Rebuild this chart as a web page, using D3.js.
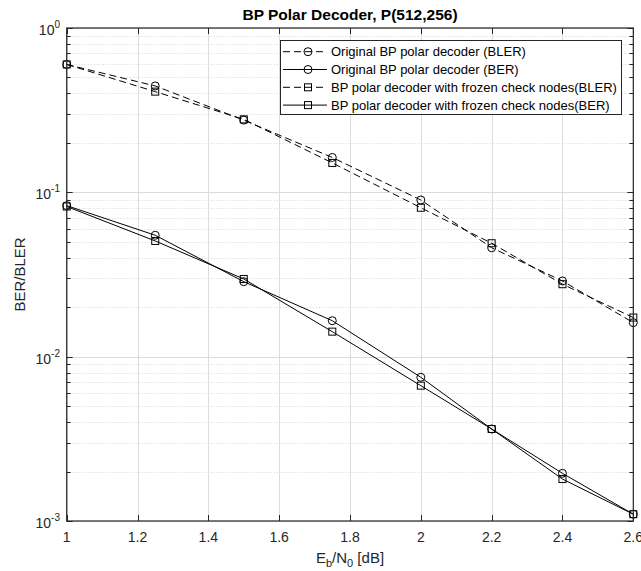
<!DOCTYPE html>
<html>
<head>
<meta charset="utf-8">
<script src="https://cdn.jsdelivr.net/npm/d3@7"></script>
<style>
  body { margin: 0; background: #fff; }
  svg { display: block; font-family: "Liberation Sans", Arial, sans-serif; }
</style>
</head>
<body>
<div id="chart"></div>
<script>
// data
var ebn0 = [1, 1.25, 1.5, 1.75, 2, 2.2, 2.4, 2.6];
var origBler = [0.600, 0.444, 0.275, 0.163, 0.0898, 0.046, 0.0289, 0.0161];
var origBer = [0.0830, 0.0548, 0.0286, 0.01655, 0.00749, 0.00363, 0.00195, 0.0011];
var frozenBler = [0.600, 0.410, 0.278, 0.151, 0.0806, 0.049, 0.0276, 0.0173];
var frozenBer = [0.0820, 0.0506, 0.0297, 0.0142, 0.00666, 0.00363, 0.0018, 0.0011];
var xTicks = [1, 1.2, 1.4, 1.6, 1.8, 2, 2.2, 2.4, 2.6];
var yExps = [0, -1, -2, -3];
var legendLabels = [
  "Original BP polar decoder (BLER)",
  "Original BP polar decoder (BER)",
  "BP polar decoder with frozen check nodes(BLER)",
  "BP polar decoder with frozen check nodes(BER)"
];

var width = 641, height = 571;
var pLeft = 66.7, pRight = 633.3, pTop = 28, pBottom = 521;
var ink = '#262626';

var svg = d3.select('#chart').append('svg')
    .attr('width', width)
    .attr('height', height);

var x = d3.scaleLinear().domain([1, 2.6]).range([pLeft, pRight]);
var y = d3.scaleLog().domain([1e-3, 1]).range([pBottom, pTop]);

// minor grid (dotted)
var minors = [];
yExps.slice(1).forEach(function(e){
  for (var m = 2; m <= 9; m++) minors.push(m * Math.pow(10, e));
});

svg.append('g').selectAll('line').data(minors).enter().append('line')
    .attr('x1', pLeft).attr('x2', pRight)
    .attr('y1', function(d){ return Math.round(y(d)) + 0.5; })
    .attr('y2', function(d){ return Math.round(y(d)) + 0.5; })
    .attr('stroke', '#d4d4d4')
    .attr('stroke-dasharray', '1,2');

// major grid
svg.append('g').selectAll('line').data(xTicks).enter().append('line')
    .attr('x1', function(d){ return Math.round(x(d)) + 0.5; })
    .attr('x2', function(d){ return Math.round(x(d)) + 0.5; })
    .attr('y1', pTop).attr('y2', pBottom)
    .attr('stroke', '#dcdcdc');
svg.append('g').selectAll('line').data(yExps).enter().append('line')
    .attr('x1', pLeft).attr('x2', pRight)
    .attr('y1', function(d){ return Math.round(y(Math.pow(10, d))) + 0.5; })
    .attr('y2', function(d){ return Math.round(y(Math.pow(10, d))) + 0.5; })
    .attr('stroke', '#dcdcdc');

// series
var series = [
  { vals: origBler, dash: '7,4', mark: 'circle' },
  { vals: origBer, dash: null, mark: 'circle' },
  { vals: frozenBler, dash: '7,4', mark: 'square' },
  { vals: frozenBer, dash: null, mark: 'square' }
];

var lineFunc = d3.line()
    .x(function(d){ return x(d[0]); })
    .y(function(d){ return y(d[1]); });

function drawMarker(g, kind, cx, cy) {
  if (kind === 'circle') {
    g.append('circle').attr('cx', cx).attr('cy', cy).attr('r', 4)
      .attr('fill', 'none').attr('stroke', '#000').attr('stroke-width', 1);
  } else {
    g.append('rect').attr('x', cx - 3.5).attr('y', cy - 3.5)
      .attr('width', 7).attr('height', 7)
      .attr('fill', 'none').attr('stroke', '#000').attr('stroke-width', 1);
  }
}

series.forEach(function(s){
  var pts = ebn0.map(function(v, i){ return [v, s.vals[i]]; });
  var g = svg.append('g');
  g.append('path')
      .attr('d', lineFunc(pts))
      .attr('fill', 'none')
      .attr('stroke', '#000')
      .attr('stroke-width', 1)
      .attr('stroke-dasharray', s.dash);
  pts.forEach(function(p){ drawMarker(g, s.mark, x(p[0]), y(p[1])); });
});

// axes box
svg.append('rect')
    .attr('x', pLeft).attr('y', pTop)
    .attr('width', pRight - pLeft).attr('height', pBottom - pTop)
    .attr('fill', 'none').attr('stroke', ink).attr('stroke-width', 1.2);

// x ticks (inward, top and bottom)
xTicks.forEach(function(t){
  var px = Math.round(x(t)) + 0.5;
  svg.append('line').attr('x1', px).attr('x2', px).attr('y1', pBottom).attr('y2', pBottom - 6).attr('stroke', ink);
  svg.append('line').attr('x1', px).attr('x2', px).attr('y1', pTop).attr('y2', pTop + 6).attr('stroke', ink);
  svg.append('text')
      .attr('x', x(t)).attr('y', 542)
      .attr('text-anchor', 'middle')
      .attr('font-size', 14)
      .attr('fill', ink)
      .text(d3.format('')(t));
});

// y ticks (major and minor, left and right)
yExps.forEach(function(e){
  var py = Math.round(y(Math.pow(10, e))) + 0.5;
  svg.append('line').attr('x1', pLeft).attr('x2', pLeft + 6).attr('y1', py).attr('y2', py).attr('stroke', ink);
  svg.append('line').attr('x1', pRight).attr('x2', pRight - 6).attr('y1', py).attr('y2', py).attr('stroke', ink);
  var t = svg.append('text')
      .attr('x', 60).attr('y', py + 6)
      .attr('text-anchor', 'end')
      .attr('font-size', 14)
      .attr('fill', ink);
  t.append('tspan').text('10');
  t.append('tspan').attr('dy', -7).attr('font-size', 10).text(e);
});
minors.forEach(function(m){
  var py = Math.round(y(m)) + 0.5;
  svg.append('line').attr('x1', pLeft).attr('x2', pLeft + 4).attr('y1', py).attr('y2', py).attr('stroke', ink);
  svg.append('line').attr('x1', pRight).attr('x2', pRight - 4).attr('y1', py).attr('y2', py).attr('stroke', ink);
});

// axis labels
var xl = svg.append('text')
    .attr('x', (pLeft + pRight) / 2).attr('y', 563)
    .attr('text-anchor', 'middle')
    .attr('font-size', 15)
    .attr('fill', ink);
xl.append('tspan').text('E');
xl.append('tspan').attr('dy', 4).attr('font-size', 11).text('b');
xl.append('tspan').attr('dy', -4).text('/N');
xl.append('tspan').attr('dy', 4).attr('font-size', 11).text('0');
xl.append('tspan').attr('dy', -4).text(' [dB]');

svg.append('text')
    .attr('transform', 'translate(25,' + ((pTop + pBottom) / 2) + ') rotate(-90)')
    .attr('text-anchor', 'middle')
    .attr('font-size', 15)
    .attr('fill', ink)
    .text('BER/BLER');

// title
svg.append('text')
    .attr('x', (pLeft + pRight) / 2).attr('y', 20)
    .attr('text-anchor', 'middle')
    .attr('font-size', 15.5)
    .attr('font-weight', 'bold')
    .attr('fill', '#000')
    .text('BP Polar Decoder, P(512,256)');

// legend
var lg = svg.append('g');
lg.append('rect')
    .attr('x', 280.5).attr('y', 40.5)
    .attr('width', 341).attr('height', 74)
    .attr('fill', '#fff').attr('stroke', ink).attr('stroke-width', 1);
legendLabels.forEach(function(lab, i){
  var ly = 51.7 + i * 17.8;
  lg.append('line')
      .attr('x1', 283).attr('x2', 327)
      .attr('y1', ly).attr('y2', ly)
      .attr('stroke', '#000')
      .attr('stroke-dasharray', series[i].dash);
  drawMarker(lg, series[i].mark, 308, ly);
  lg.append('text')
      .attr('x', 331).attr('y', ly + 4.5)
      .attr('font-size', 13)
      .attr('fill', '#000')
      .text(lab);
});
</script>
</body>
</html>
